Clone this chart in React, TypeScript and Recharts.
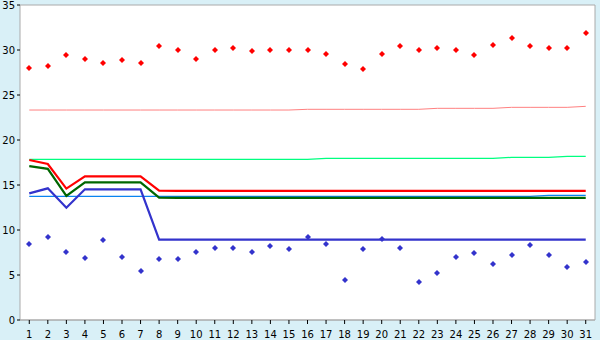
import React from "react";
import {
  ComposedChart,
  Line,
  Scatter,
  XAxis,
  YAxis,
  CartesianGrid,
} from "recharts";

const days = [
  1, 2, 3, 4, 5, 6, 7, 8, 9, 10, 11, 12, 13, 14, 15, 16, 17, 18, 19, 20, 21,
  22, 23, 24, 25, 26, 27, 28, 29, 30, 31,
];

const redPoints = [
  28.0, 28.2, 29.4, 29.0, 28.6, 28.85, 28.6, 30.4, 30.0, 29.0, 30.0, 30.2,
  29.85, 30.0, 30.0, 30.0, 29.6, 28.5, 27.85, 29.6, 30.4, 30.0, 30.2, 30.0,
  29.4, 30.6, 31.3, 30.4, 30.2, 30.2, 31.85,
];

const bluePoints = [
  8.4, 9.2, 7.6, 6.85, 8.85, 7.05, 5.4, 6.75, 6.75, 7.6, 8.05, 7.95, 7.6, 8.2,
  7.85, 9.2, 8.4, 4.4, 7.85, 8.95, 7.95, 4.2, 5.2, 6.95, 7.4, 6.2, 7.2, 8.3,
  7.2, 5.85, 6.4,
];

const redLine = [
  17.78, 17.33, 14.6, 15.96, 15.96, 15.96, 15.96, 14.37, 14.35, 14.35, 14.35,
  14.35, 14.35, 14.35, 14.35, 14.35, 14.35, 14.35, 14.35, 14.35, 14.35, 14.35,
  14.35, 14.35, 14.35, 14.35, 14.35, 14.35, 14.35, 14.35, 14.35,
];

const greenLine = [
  17.1, 16.8, 13.78, 15.3, 15.3, 15.3, 15.3, 13.6, 13.58, 13.58, 13.58, 13.58,
  13.58, 13.58, 13.58, 13.58, 13.58, 13.58, 13.58, 13.58, 13.58, 13.58, 13.58,
  13.58, 13.58, 13.58, 13.58, 13.58, 13.58, 13.58, 13.58,
];

const blueLine = [
  14.07, 14.63, 12.48, 14.52, 14.52, 14.52, 14.52, 8.93, 8.93, 8.93, 8.93,
  8.93, 8.93, 8.93, 8.93, 8.93, 8.93, 8.93, 8.93, 8.93, 8.93, 8.93, 8.93, 8.93,
  8.93, 8.93, 8.93, 8.93, 8.93, 8.93, 8.93,
];

const pinkLine = [
  23.33, 23.33, 23.33, 23.33, 23.33, 23.33, 23.33, 23.33, 23.33, 23.33, 23.33,
  23.33, 23.33, 23.33, 23.33, 23.41, 23.41, 23.41, 23.41, 23.41, 23.41, 23.41,
  23.52, 23.52, 23.52, 23.52, 23.63, 23.63, 23.63, 23.63, 23.74,
];

const lightGreenLine = [
  17.85, 17.85, 17.85, 17.85, 17.85, 17.85, 17.85, 17.85, 17.85, 17.85, 17.85,
  17.85, 17.85, 17.85, 17.85, 17.85, 17.96, 17.96, 17.96, 17.96, 17.96, 17.96,
  17.96, 17.96, 17.96, 17.96, 18.07, 18.07, 18.07, 18.18, 18.18,
];

const lightBlueLine = [
  13.74, 13.74, 13.74, 13.74, 13.74, 13.74, 13.74, 13.74, 13.74, 13.74, 13.74,
  13.74, 13.74, 13.74, 13.74, 13.74, 13.74, 13.74, 13.74, 13.74, 13.74, 13.74,
  13.74, 13.74, 13.74, 13.74, 13.74, 13.74, 13.85, 13.85, 13.85,
];

const yTicks = [0, 5, 10, 15, 20, 25, 30, 35];

const data = days.map((d, i) => ({
  day: d,
  red: redPoints[i],
  blue: bluePoints[i],
  redLine: redLine[i],
  greenLine: greenLine[i],
  blueLine: blueLine[i],
  pinkLine: pinkLine[i],
  lightGreenLine: lightGreenLine[i],
  lightBlueLine: lightBlueLine[i],
}));

const makeMarker = (color: string) => (props: any) => {
  const { cx, cy } = props;
  if (cx == null || cy == null) return <g />;
  const x = Math.round(cx);
  const y = Math.round(cy);
  const d = `M${x - 0.5},${y - 2.5} h2 v1 h1 v1 h1 v1 h-1 v1 h-1 v1 h-2 v-1 h-1 v-1 h-1 v-1 h1 v-1 h1 z`;
  return <path d={d} fill={color} stroke="none" transform="translate(-0.5,0)" />;
};

const tickStyle = {
  fontFamily: "DejaVu Sans, Verdana, sans-serif",
  fontSize: 10,
  fill: "#000",
};

export default function App() {
  return (
    <div style={{ position: "absolute", left: 0, top: 0, width: 600, height: 340, background: "#D9F0F7" }}>
      <ComposedChart
        width={600}
        height={340}
        data={data}
        margin={{ top: 5, right: 0, left: 0, bottom: 0 }}
      >
        <CartesianGrid
          vertical={false}
          stroke="#AAAAAA"
          fill="#FFFFFF"
          fillOpacity={1}
        />
        <XAxis
          dataKey="day"
          type="category"
          height={20}
          tickSize={4}
          tickMargin={7}
          interval={0}
          padding={{ left: 9.27, right: 9.27 }}
          stroke="#AAAAAA"
          tick={tickStyle}
          tickLine={{ stroke: "#000" }}
        />
        <YAxis
          yAxisId="l"
          domain={[0, 35]}
          ticks={yTicks}
          width={20}
          tickSize={3}
          tickMargin={2}
          stroke="#AAAAAA"
          tick={tickStyle}
          tickLine={{ stroke: "#000" }}
        />
        <YAxis
          yAxisId="r"
          orientation="right"
          domain={[0, 35]}
          width={5}
          tick={false}
          tickLine={false}
          stroke="#AAAAAA"
        />
        <Line yAxisId="l" dataKey="pinkLine" stroke="#FF8080" strokeWidth={1} dot={false} isAnimationActive={false} />
        <Line yAxisId="l" dataKey="lightGreenLine" stroke="#00FF80" strokeWidth={1.2} dot={false} isAnimationActive={false} />
        <Line yAxisId="l" dataKey="lightBlueLine" stroke="#0A84F0" strokeWidth={1.2} dot={false} isAnimationActive={false} />
        <Line yAxisId="l" dataKey="redLine" stroke="#FF0000" strokeWidth={2.2} dot={false} isAnimationActive={false} />
        <Line yAxisId="l" dataKey="greenLine" stroke="#006600" strokeWidth={2.2} dot={false} isAnimationActive={false} />
        <Line yAxisId="l" dataKey="blueLine" stroke="#3333CC" strokeWidth={2.2} dot={false} isAnimationActive={false} />
        <Scatter yAxisId="l" dataKey="red" fill="#FF0000" shape={makeMarker("#FF0000")} isAnimationActive={false} />
        <Scatter yAxisId="l" dataKey="blue" fill="#3333CC" shape={makeMarker("#3333CC")} isAnimationActive={false} />
      </ComposedChart>
    </div>
  );
}
